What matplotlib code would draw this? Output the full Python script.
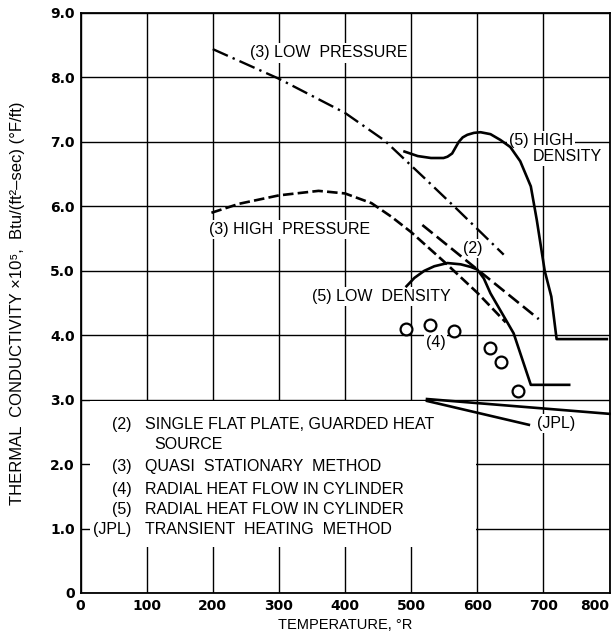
import matplotlib
matplotlib.use('Agg')
import matplotlib.pyplot as plt
from matplotlib.patches import Rectangle

plt.rcParams['font.family'] = ['Liberation Sans', 'DejaVu Sans']

# (3) low pressure, dash-dot
lp_T = [200, 300, 400, 460, 520, 570, 640]
lp_k = [8.44, 7.98, 7.45, 7.02, 6.44, 5.95, 5.25]
# (3) high pressure, dashed
hp_T = [198, 240, 300, 360, 400, 440, 470, 500, 550, 600, 643]
hp_k = [5.90, 6.04, 6.17, 6.24, 6.20, 6.05, 5.84, 5.60, 5.14, 4.66, 4.20]
# (2) single flat plate, dashed
fp_T = [517, 693]
fp_k = [5.71, 4.25]
# (5) high density
hd_T = [490, 510, 530, 549, 555, 562, 567, 572, 578, 585, 595, 605, 620, 635, 650, 665, 681, 690, 702, 712, 720, 796]
hd_k = [6.85, 6.78, 6.75, 6.75, 6.77, 6.82, 6.91, 7.00, 7.07, 7.11, 7.14, 7.15, 7.12, 7.03, 6.92, 6.70, 6.31, 5.79, 5.00, 4.60, 3.94, 3.94]
# (5) low density
ld_T = [493, 505, 520, 535, 555, 575, 590, 600, 610, 620, 646, 655, 681, 739]
ld_k = [4.76, 4.89, 5.00, 5.07, 5.12, 5.10, 5.06, 5.02, 4.88, 4.65, 4.19, 4.03, 3.23, 3.23]
# (4) radial heat flow, points
c_T = [492, 528, 565, 620, 636, 661]
c_k = [4.10, 4.16, 4.06, 3.80, 3.59, 3.13]
# (JPL) transient heating
jpl1_T = [524, 800]
jpl1_k = [3.01, 2.78]
jpl2_T = [524, 678]
jpl2_k = [2.98, 2.61]

legend_tags = ['(2)', '', '(3)', '(4)', '(5)', '(JPL)']
legend_desc = ['SINGLE FLAT PLATE, GUARDED HEAT', 'SOURCE', 'QUASI  STATIONARY  METHOD',
               'RADIAL HEAT FLOW IN CYLINDER', 'RADIAL HEAT FLOW IN CYLINDER',
               'TRANSIENT  HEATING  METHOD']
legend_y = [2.61, 2.30, 1.96, 1.60, 1.29, 0.98]

fig = plt.figure(figsize=(6.13, 6.4), dpi=100)
ax = fig.add_axes([80.5/613, 47/640, 529/613, 580/640])
ax.set_xlim(0, 800)
ax.set_ylim(0, 9)
ax.set_xticks(range(0, 801, 100))
ax.set_yticks(range(0, 10))
ax.set_yticklabels(['0'] + ['%.1f' % v for v in range(1, 10)])
ax.tick_params(length=0, labelsize=10, pad=4)
for lab in ax.get_xticklabels() + ax.get_yticklabels():
    lab.set_fontweight('bold')
    lab.set_family('DejaVu Sans')
ax.get_xticklabels()[-1].set_ha('right')
ax.grid(True, color='black', lw=1.0)
ax.set_axisbelow(True)
for s in ax.spines.values():
    s.set_linewidth(1.3)

# blank panel holding the key
ax.add_patch(Rectangle((15, 0.72), 583, 2.26, facecolor='white', edgecolor='none', zorder=1))

lw = 1.9
l, = ax.plot(lp_T, lp_k, color='black', lw=1.7, zorder=3)
l.set_dashes((7, 2.2, 1, 2.2))
l, = ax.plot(hp_T, hp_k, color='black', lw=lw, zorder=3)
l.set_dashes((4, 1.6))
l, = ax.plot(fp_T, fp_k, color='black', lw=lw, zorder=3)
l.set_dashes((5, 2))
ax.plot(hd_T, hd_k, color='black', lw=lw, zorder=3)
ax.plot(ld_T, ld_k, color='black', lw=lw, zorder=3)
ax.plot(jpl1_T, jpl1_k, color='black', lw=lw, zorder=3, clip_on=False)
ax.plot(jpl2_T, jpl2_k, color='black', lw=lw, zorder=3)
ax.plot(c_T, c_k, 'o', ms=8.5, mfc='white', mec='black', mew=1.6, zorder=4)

box = dict(facecolor='white', edgecolor='none', pad=1.5)
fs = 11.5
ax.text(257, 8.38, '(3) LOW  PRESSURE', fontsize=fs, va='center', bbox=box, zorder=2)
ax.text(195, 5.64, '(3) HIGH  PRESSURE', fontsize=fs, va='center', bbox=box, zorder=2)
ax.text(578, 5.34, '(2)', fontsize=fs, va='center', bbox=box, zorder=2)
ax.text(350, 4.60, '(5) LOW  DENSITY', fontsize=fs, va='center', bbox=box, zorder=2)
ax.text(648, 7.02, '(5) HIGH', fontsize=fs, va='center', bbox=box, zorder=2)
ax.text(684, 6.78, 'DENSITY', fontsize=fs, va='center', bbox=box, zorder=2)
ax.text(522, 3.88, '(4)', fontsize=fs, va='center', bbox=box, zorder=2)
ax.text(690, 2.63, '(JPL)', fontsize=fs, va='center', bbox=box, zorder=2)

for tag, desc, y in zip(legend_tags, legend_desc, legend_y):
    if tag:
        ax.text(77, y, tag, fontsize=fs, ha='right', va='center', zorder=2, bbox=box)
        ax.text(98, y, desc, fontsize=fs, ha='left', va='center', zorder=2)
    else:
        ax.text(111, y, desc, fontsize=fs, ha='left', va='center', zorder=2)

fig.text(18/613, 1 - 303/640, 'THERMAL  CONDUCTIVITY \u00d710\u2075,  Btu/(ft\u00b2\u2013sec) (\u00b0F/ft)',
         rotation=90, ha='center', va='center', fontsize=12)
fig.text(345/613, 1 - 625/640, 'TEMPERATURE, \u00b0R', ha='center', va='center', fontsize=10.5)

fig.savefig('out.png', dpi=100)
